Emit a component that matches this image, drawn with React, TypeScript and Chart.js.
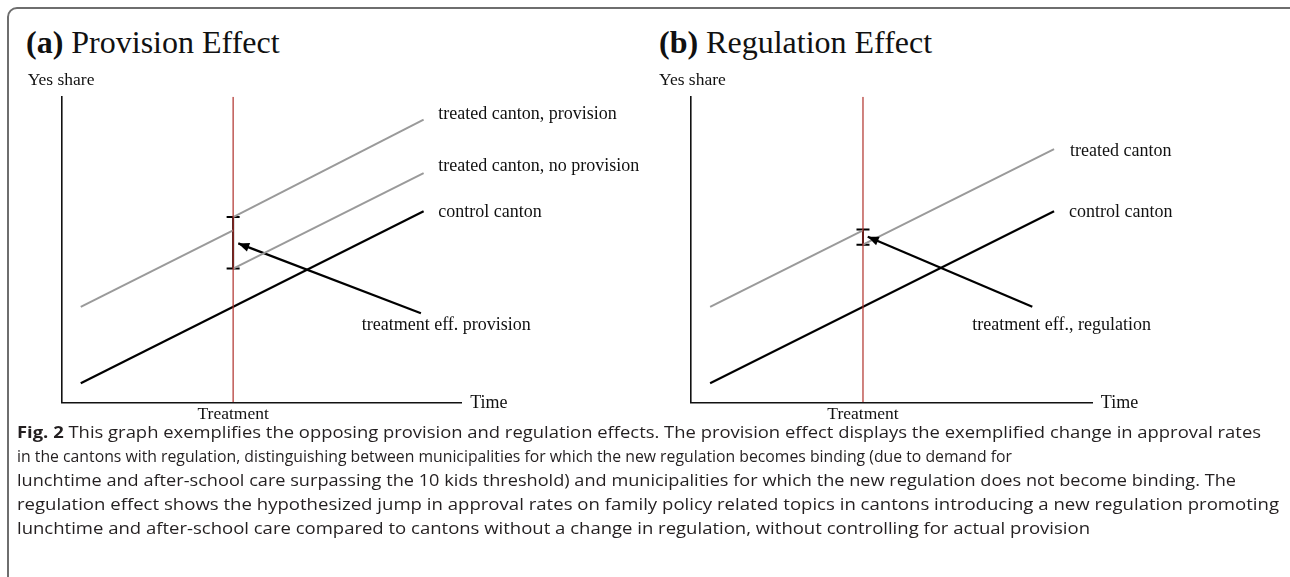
import React, { useEffect, useRef } from "react";
import { Chart, registerables } from "chart.js";

Chart.register(...registerables);

// ---------- axes ----------
const TIME_RANGE = [0, 21];
const SHARE_RANGE = [0, 16];
const TREATMENT_TIME = 9;
const TREATMENT_LABEL = "Treatment";
const X_TITLE = "Time";
const Y_TITLE = "Yes share";

// ---------- panel (a): provision effect ----------
const A_TITLE_TAG = "(a)";
const A_TITLE = "Provision Effect";
const A_TIME_FULL = [1, 19];
const A_TIME_PRE = [1, 9];
const A_TIME_POST = [9, 19];
const A_CONTROL = [1, 10];
const A_PROVISION_PRE = [5, 9];
const A_PROVISION_POST = [9.7, 14.8];
const A_NO_PROVISION_POST = [7, 12];
const A_EFFECT = [7, 9.7];
const A_ARROW_TIME = [18.86, 9.27];
const A_ARROW_SHARE = [4.66, 8.32];
const A_LABEL_TEXT = ["treated canton, provision", "treated canton, no provision", "control canton", "treatment eff. provision"];
const A_LABEL_TIME = [19.77, 19.77, 19.77, 15.75];
const A_LABEL_SHARE = [15.09, 12.37, 9.93, 4.01];

// ---------- panel (b): regulation effect ----------
const B_TITLE_TAG = "(b)";
const B_TITLE = "Regulation Effect";
const B_TIME_FULL = [1, 19];
const B_TIME_PRE = [1, 9];
const B_TIME_POST = [9, 19];
const B_CONTROL = [1, 10];
const B_TREATED_PRE = [5, 9];
const B_TREATED_POST = [8.25, 13.25];
const B_EFFECT = [8.25, 9.05];
const B_ARROW_TIME = [17.86, 9.25];
const B_ARROW_SHARE = [5.0, 8.67];
const B_LABEL_TEXT = ["treated canton", "control canton", "treatment eff., regulation"];
const B_LABEL_TIME = [19.83, 19.78, 14.72];
const B_LABEL_SHARE = [13.16, 9.93, 4.05];

// ---------- caption ----------
const CAPTION_BOLD = "Fig. 2";
const CAPTION_LINES = [
  " This graph exemplifies the opposing provision and regulation effects. The provision effect displays the exemplified change in approval rates",
  "in the cantons with regulation, distinguishing between municipalities for which the new regulation becomes binding (due to demand for",
  "lunchtime and after-school care surpassing the 10 kids threshold) and municipalities for which the new regulation does not become binding. The",
  "regulation effect shows the hypothesized jump in approval rates on family policy related topics in cantons introducing a new regulation promoting",
  "lunchtime and after-school care compared to cantons without a change in regulation, without controlling for actual provision",
];
const CAPTION_LINE_END = [1261, 1012, 1236, 1279, 1090];

const SERIF = '"Liberation Serif", "Times New Roman", serif';
const SANS = '"Open Sans", "Noto Sans", sans-serif';
const GRAY = "#9a9a9a";
const RED = "#b0302a";

const pts = (xs: number[], ys: number[]) => xs.map((x, i) => ({ x, y: ys[i] }));

function lineDs(data: any[], color: string, width: number) {
  return {
    data,
    borderColor: color,
    borderWidth: width,
    pointRadius: 0,
    fill: false,
    tension: 0,
  };
}

function errorBarDs(values: number[]) {
  return {
    data: values.map((v) => ({ x: TREATMENT_TIME, y: v })),
    borderColor: "#000",
    borderWidth: 2,
    pointStyle: "line",
    pointRadius: 6.5,
    pointBorderWidth: 2,
    pointBorderColor: "#000",
    pointBackgroundColor: "#000",
    fill: false,
  };
}

function makePlugin(cfg: any) {
  return {
    id: "annot",
    afterDatasetsDraw(chart: any) {
      const { ctx, chartArea, scales } = chart;
      const x = scales.x;
      const y = scales.y;
      ctx.save();
      ctx.fillStyle = "#111";
      ctx.textBaseline = "middle";
      ctx.textAlign = "left";
      ctx.font = `18px ${SERIF}`;
      cfg.labelText.forEach((t: string, i: number) => {
        ctx.fillText(t, x.getPixelForValue(cfg.labelTime[i]), y.getPixelForValue(cfg.labelShare[i]));
      });
      ctx.font = `17.5px ${SERIF}`;
      ctx.fillText(Y_TITLE, chartArea.left + cfg.yTitleDx, chartArea.top - 16);
      ctx.font = `18px ${SERIF}`;
      ctx.fillText(X_TITLE, chartArea.right + 8.5, chartArea.bottom + 0.5);
      ctx.font = `17.5px ${SERIF}`;
      ctx.textAlign = "center";
      ctx.fillText(TREATMENT_LABEL, x.getPixelForValue(TREATMENT_TIME), chartArea.bottom + 12);
      // arrow head
      const tx = x.getPixelForValue(cfg.arrowTime[0]);
      const ty = y.getPixelForValue(cfg.arrowShare[0]);
      const hx = x.getPixelForValue(cfg.arrowTime[1]);
      const hy = y.getPixelForValue(cfg.arrowShare[1]);
      const a = Math.atan2(hy - ty, hx - tx);
      const L = 11;
      const W = 4.5;
      const bx = hx - L * Math.cos(a);
      const by = hy - L * Math.sin(a);
      ctx.fillStyle = "#000";
      ctx.beginPath();
      ctx.moveTo(hx, hy);
      ctx.lineTo(bx - W * Math.sin(a), by + W * Math.cos(a));
      ctx.lineTo(bx + W * Math.sin(a), by - W * Math.cos(a));
      ctx.closePath();
      ctx.fill();
      ctx.restore();
    },
  };
}

function baseOptions(padding: any) {
  const axis = (range: number[]) => ({
    type: "linear",
    min: range[0],
    max: range[1],
    grid: { display: false, drawTicks: false },
    ticks: { display: false },
    border: { display: true, color: "#111", width: 1.6 },
    title: { display: false },
  });
  return {
    responsive: false,
    animation: false,
    events: [],
    layout: { padding },
    plugins: { legend: { display: false }, tooltip: { enabled: false }, title: { display: false } },
    scales: { x: axis(TIME_RANGE), y: axis(SHARE_RANGE) },
  };
}

function PanelChart(props: { datasets: any[]; padding: any; plugin: any; left: number; width: number }) {
  const ref = useRef<HTMLCanvasElement>(null);
  useEffect(() => {
    if (!ref.current) return;
    const chart = new Chart(ref.current, {
      type: "line",
      data: { datasets: props.datasets },
      options: baseOptions(props.padding) as any,
      plugins: [props.plugin],
    } as any);
    return () => chart.destroy();
  }, []);
  return (
    <canvas
      ref={ref}
      width={props.width}
      height={380}
      style={{ position: "absolute", left: props.left, top: 60, width: props.width, height: 380 }}
    />
  );
}

const redLine = () => lineDs(pts([TREATMENT_TIME, TREATMENT_TIME], SHARE_RANGE), RED, 1.2);

const A_DATASETS = [
  redLine(),
  lineDs(pts(A_TIME_PRE, A_PROVISION_PRE), GRAY, 2),
  lineDs(pts(A_TIME_POST, A_PROVISION_POST), GRAY, 2),
  lineDs(pts(A_TIME_POST, A_NO_PROVISION_POST), GRAY, 2),
  lineDs(pts(A_TIME_FULL, A_CONTROL), "#000", 2.2),
  errorBarDs(A_EFFECT),
  lineDs(pts(A_ARROW_TIME, A_ARROW_SHARE), "#000", 2.2),
];

const B_DATASETS = [
  redLine(),
  lineDs(pts(B_TIME_PRE, B_TREATED_PRE), GRAY, 2),
  lineDs(pts(B_TIME_POST, B_TREATED_POST), GRAY, 2),
  lineDs(pts(B_TIME_FULL, B_CONTROL), "#000", 2.2),
  errorBarDs(B_EFFECT),
  lineDs(pts(B_ARROW_TIME, B_ARROW_SHARE), "#000", 2.2),
];

const A_PLUGIN = makePlugin({
  labelText: A_LABEL_TEXT,
  labelTime: A_LABEL_TIME,
  labelShare: A_LABEL_SHARE,
  arrowTime: A_ARROW_TIME,
  arrowShare: A_ARROW_SHARE,
  yTitleDx: -34,
});
const B_PLUGIN = makePlugin({
  labelText: B_LABEL_TEXT,
  labelTime: B_LABEL_TIME,
  labelShare: B_LABEL_SHARE,
  arrowTime: B_ARROW_TIME,
  arrowShare: B_ARROW_SHARE,
  yTitleDx: -32,
});

let measureCtx: CanvasRenderingContext2D | null = null;
function measure(text: string, font: string) {
  if (!measureCtx) measureCtx = document.createElement("canvas").getContext("2d");
  if (!measureCtx) return 1;
  measureCtx.font = font;
  return measureCtx.measureText(text).width;
}

const CAP_SIZE = 16.5;
const CAP_LEFT = 17;
const CAP_TOP0 = 432;
const CAP_STEP = 24;

function Caption() {
  return (
    <>
      {CAPTION_LINES.map((line, i) => {
        const regular = `${CAP_SIZE}px ${SANS}`;
        const bold = `bold ${CAP_SIZE}px ${SANS}`;
        const natural = measure(line, regular) + (i === 0 ? measure(CAPTION_BOLD, bold) : 0);
        const s = (CAPTION_LINE_END[i] - CAP_LEFT) / natural;
        return (
          <div
            key={i}
            style={{
              position: "absolute",
              left: CAP_LEFT,
              top: CAP_TOP0 + i * CAP_STEP - 12,
              height: 24,
              lineHeight: "24px",
              fontFamily: SANS,
              fontSize: CAP_SIZE,
              color: "#231f20",
              whiteSpace: "pre",
              transform: `scaleX(${s})`,
              transformOrigin: "0 0",
            }}
          >
            {i === 0 ? <b>{CAPTION_BOLD}</b> : null}
            {line}
          </div>
        );
      })}
    </>
  );
}

function Title(props: { tag: string; text: string; left: number }) {
  const fs = 32;
  const baseline = 53;
  return (
    <div
      style={{
        position: "absolute",
        left: props.left,
        top: baseline - 0.8375 * fs,
        fontFamily: SERIF,
        fontSize: fs,
        lineHeight: `${fs}px`,
        color: "#111",
        whiteSpace: "pre",
      }}
    >
      <b>{props.tag}</b>
      {" " + props.text}
    </div>
  );
}

export default function App() {
  useEffect(() => {
    document.body.style.margin = "0";
  }, []);
  return (
    <div style={{ position: "relative", width: 1290, height: 577, overflow: "hidden", background: "#fff" }}>
      <div
        style={{
          position: "absolute",
          left: 7,
          top: 7,
          width: 1320,
          height: 620,
          border: "2px solid #6e6e6e",
          borderRadius: 10,
          boxSizing: "border-box",
        }}
      />
      <Title tag={A_TITLE_TAG} text={A_TITLE} left={26} />
      <Title tag={B_TITLE_TAG} text={B_TITLE} left={659} />
      <PanelChart
        datasets={A_DATASETS}
        padding={{ left: 61.7, top: 36.7, right: 178.3, bottom: 37.7 }}
        plugin={A_PLUGIN}
        left={0}
        width={640}
      />
      <PanelChart
        datasets={B_DATASETS}
        padding={{ left: 51, top: 36.7, right: 197.7, bottom: 37.7 }}
        plugin={B_PLUGIN}
        left={640}
        width={650}
      />
      <Caption />
    </div>
  );
}
